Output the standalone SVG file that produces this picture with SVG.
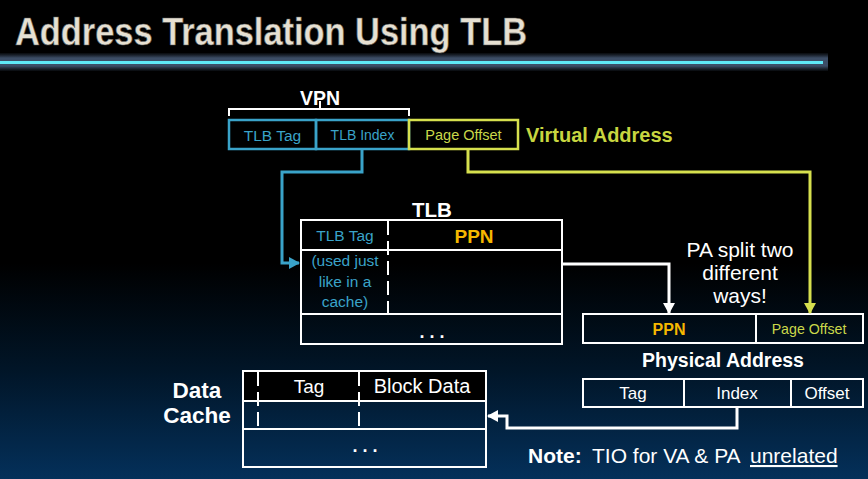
<svg xmlns="http://www.w3.org/2000/svg" width="868" height="479" viewBox="0 0 868 479">
  <defs>
    <linearGradient id="bg" x1="0" y1="0" x2="0" y2="479" gradientUnits="userSpaceOnUse">
      <stop offset="0" stop-color="#000000"/>
      <stop offset="0.55" stop-color="#000000"/>
      <stop offset="0.78" stop-color="#011629"/>
      <stop offset="1" stop-color="#04305a"/>
    </linearGradient>
    <linearGradient id="glow" x1="0" y1="52" x2="0" y2="72" gradientUnits="userSpaceOnUse">
      <stop offset="0" stop-color="#2a3646" stop-opacity="0"/>
      <stop offset="0.3" stop-color="#3c4d66"/>
      <stop offset="0.7" stop-color="#3c4d66"/>
      <stop offset="1" stop-color="#2a3646" stop-opacity="0"/>
    </linearGradient>
    <marker id="ah-white" markerWidth="12" markerHeight="12" refX="10" refY="6" orient="auto" markerUnits="userSpaceOnUse">
      <path d="M0,0 L11,6 L0,12 Z" fill="#ffffff"/>
    </marker>
    <marker id="ah-blue" markerWidth="12" markerHeight="12" refX="10" refY="6" orient="auto" markerUnits="userSpaceOnUse">
      <path d="M0,0 L11,6 L0,12 Z" fill="#3aa3c9"/>
    </marker>
    <marker id="ah-yellow" markerWidth="12" markerHeight="12" refX="10" refY="6" orient="auto" markerUnits="userSpaceOnUse">
      <path d="M0,0 L11,6 L0,12 Z" fill="#d6e04e"/>
    </marker>
    <style>
      text { font-family: "Liberation Sans", Arial, sans-serif; }
      .box { fill: none; stroke: #ffffff; stroke-width: 2; }
      .dash { stroke: #ffffff; stroke-width: 2; stroke-dasharray: 14 6; }
      .bluebox { fill: none; stroke: #3aa3c9; stroke-width: 2.5; }
      .yelbox { fill: none; stroke: #d6e04e; stroke-width: 2.5; }
      .wt { fill: #ffffff; }
      .bold { font-weight: bold; }
      .blue { fill: #3aa3c9; }
      .yel { fill: #cad84a; }
      .ppn { fill: #f5b800; font-weight: bold; }
      .mid { text-anchor: middle; }
      .conn { fill: none; stroke-width: 3; stroke-linejoin: miter; }
    </style>
  </defs>

  <!-- background -->
  <rect x="0" y="0" width="868" height="479" fill="url(#bg)"/>

  <!-- title and rule -->
  <g id="title">
    <rect x="0" y="53" width="828" height="18" fill="url(#glow)"/>
    <rect x="0" y="61" width="823" height="3" fill="#5fe8f6"/>
    <text x="15" y="45" font-size="39" font-weight="bold" fill="#e6e0d2" stroke="#5a5a5a" stroke-width="0.6" textLength="512" lengthAdjust="spacingAndGlyphs">Address Translation Using TLB</text>
  </g>

  <!-- virtual address -->
  <g id="virtual-address">
    <path d="M229,116 V109 H409 V116 M320,109 V101" fill="none" stroke="#ffffff" stroke-width="2"/>
    <text x="320" y="105" class="wt bold mid" font-size="19.5">VPN</text>
    <rect x="229" y="120" width="87" height="29" class="bluebox"/>
    <rect x="316" y="120" width="93" height="29" class="bluebox"/>
    <rect x="409" y="120" width="109" height="29" class="yelbox"/>
    <text x="272.5" y="141" class="blue mid" font-size="15.5">TLB Tag</text>
    <text x="362.5" y="140" class="blue mid" font-size="14">TLB Index</text>
    <text x="463.5" y="140" class="yel mid" font-size="14.5">Page Offset</text>
    <text x="526" y="142" class="bold" font-size="20" fill="#c8d640">Virtual Address</text>
  </g>

  <!-- TLB -->
  <g id="tlb">
    <text x="432" y="217" class="wt bold mid" font-size="20.5">TLB</text>
    <rect x="301" y="220" width="261" height="124" class="box" fill="#000000"/>
    <line x1="301" y1="250" x2="562" y2="250" stroke="#ffffff" stroke-width="2"/>
    <line x1="301" y1="314" x2="562" y2="314" stroke="#ffffff" stroke-width="2"/>
    <line x1="388" y1="221" x2="388" y2="314" class="dash"/>
    <text x="345" y="241" class="blue mid" font-size="15.5">TLB Tag</text>
    <text x="474" y="243" class="ppn mid" font-size="19">PPN</text>
    <text x="345" y="266" class="blue mid" font-size="15.5">(used just</text>
    <text x="345" y="287" class="blue mid" font-size="15.5">like in a</text>
    <text x="345" y="307" class="blue mid" font-size="15.5">cache)</text>
    <text x="432" y="338" class="wt bold mid" font-size="18">. . .</text>
  </g>

  <!-- note beside physical address -->
  <g id="pa-note">
    <text x="740" y="257" class="wt mid" font-size="21">PA split two</text>
    <text x="740" y="280" class="wt mid" font-size="21">different</text>
    <text x="740" y="303" class="wt mid" font-size="21">ways!</text>
  </g>

  <!-- physical address: PPN / page offset -->
  <g id="physical-address">
    <rect x="583" y="314" width="280" height="29" class="box" fill="#000000"/>
    <line x1="756" y1="314" x2="756" y2="343" stroke="#ffffff" stroke-width="2"/>
    <text x="669" y="335" class="ppn mid" font-size="16">PPN</text>
    <text x="809" y="334" class="yel mid" font-size="14.2">Page Offset</text>
    <text x="723" y="367" class="wt bold mid" font-size="19.5">Physical Address</text>
  </g>

  <!-- physical address: tag / index / offset -->
  <g id="physical-tio">
    <rect x="583" y="379" width="280" height="28" class="box"/>
    <line x1="684" y1="379" x2="684" y2="407" stroke="#ffffff" stroke-width="2"/>
    <line x1="791" y1="379" x2="791" y2="407" stroke="#ffffff" stroke-width="2"/>
    <text x="633" y="399" class="wt mid" font-size="17">Tag</text>
    <text x="737" y="399" class="wt mid" font-size="17">Index</text>
    <text x="827" y="399" class="wt mid" font-size="17">Offset</text>
  </g>

  <!-- data cache -->
  <g id="data-cache">
    <text x="197" y="398" class="wt bold mid" font-size="22.5">Data</text>
    <text x="197" y="423" class="wt bold mid" font-size="22.5">Cache</text>
    <rect x="243" y="371" width="243" height="30" fill="#000000"/>
    <rect x="243" y="371" width="243" height="96" class="box"/>
    <line x1="243" y1="401" x2="486" y2="401" stroke="#ffffff" stroke-width="2"/>
    <line x1="243" y1="429" x2="486" y2="429" stroke="#ffffff" stroke-width="2"/>
    <line x1="258" y1="372" x2="258" y2="429" class="dash"/>
    <line x1="359" y1="372" x2="359" y2="429" class="dash"/>
    <text x="309" y="393" class="wt mid" font-size="19">Tag</text>
    <text x="422" y="393" class="wt mid" font-size="20">Block Data</text>
    <text x="365" y="452" class="wt bold mid" font-size="18">. . .</text>
  </g>

  <!-- footnote -->
  <g id="footnote">
    <text y="463" font-size="21" class="wt"><tspan x="528" class="bold">Note:</tspan><tspan x="592">TIO for VA &amp; PA</tspan><tspan x="750" text-decoration="underline">unrelated</tspan></text>
  </g>

  <!-- connectors -->
  <g id="connectors">
    <path d="M362,150 V172 H282 V263 H299" class="conn" stroke="#3aa3c9" marker-end="url(#ah-blue)"/>
    <path d="M468,150 V172 H810 V313" class="conn" stroke="#d6e04e" marker-end="url(#ah-yellow)"/>
    <path d="M563,264 H669 V313" class="conn" stroke="#ffffff" marker-end="url(#ah-white)"/>
    <path d="M737,408 V428 H507 V416 H488" class="conn" stroke="#ffffff" marker-end="url(#ah-white)"/>
  </g>
</svg>
